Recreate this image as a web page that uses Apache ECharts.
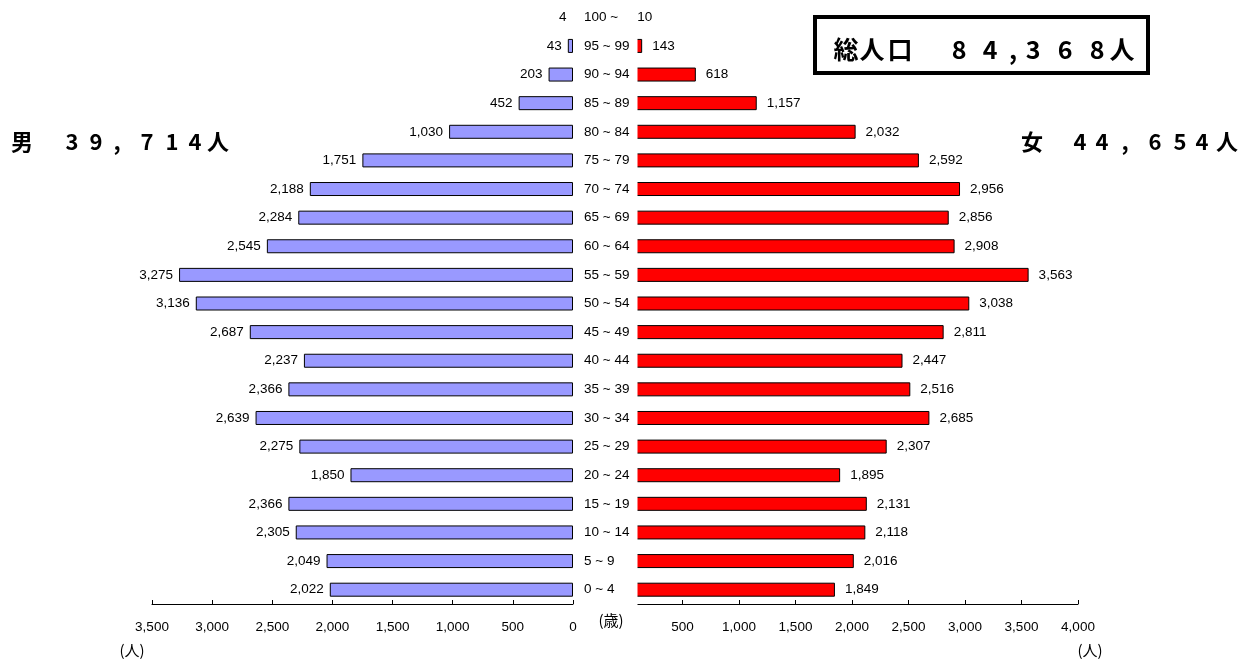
<!DOCTYPE html>
<html><head><meta charset="utf-8">
<script src="https://cdn.jsdelivr.net/npm/echarts@6/dist/echarts.min.js"></script>
<style>html,body{margin:0;padding:0;background:#fff}#c{width:1249px;height:661px}</style>
</head><body><div id="c"></div>
<script>
const categories = ['0 ~ 4','5 ~ 9','10 ~ 14','15 ~ 19','20 ~ 24','25 ~ 29','30 ~ 34','35 ~ 39','40 ~ 44','45 ~ 49','50 ~ 54','55 ~ 59','60 ~ 64','65 ~ 69','70 ~ 74','75 ~ 79','80 ~ 84','85 ~ 89','90 ~ 94','95 ~ 99','100 ~'];
const male = [2022,2049,2305,2366,1850,2275,2639,2366,2237,2687,3136,3275,2545,2284,2188,1751,1030,452,203,43,4];
const female = [1849,2016,2118,2131,1895,2307,2685,2516,2447,2811,3038,3563,2908,2856,2956,2592,2032,1157,618,143,10];
// header texts, one glyph each so the wide letter-spacing of the original is kept
const totalGlyphs = ['総','人','口','8','4',',','3','6','8','人'];
const maleGlyphs = ['男','3','9',',','7','1','4','人'];
const femaleGlyphs = ['女','4','4',',','6','5','4','人'];

const FONT = '"Liberation Sans", Arial, sans-serif';
const JFONT = '"Noto Sans CJK JP", sans-serif';
const fmt = v => Number(v).toLocaleString('en-US');

const totalX = [846, 872, 900, 959, 990, 1013, 1033, 1065, 1097, 1122];
const maleX = [22, 72, 96, 117, 147, 172, 195, 218];
const femaleX = [1032, 1080, 1102, 1125, 1155, 1180, 1202, 1227];
function glyphs(list, xs, y, size) {
  return list.map((g, i) => ({type: 'text', x: xs[i], y: y, z: 60,
    style: {text: g, fontSize: size, fontWeight: 'bold', fontFamily: JFONT, fill: '#000', align: 'center', verticalAlign: 'middle'}}));
}

const chart = echarts.init(document.getElementById('c'));
chart.setOption({
  animation: false,
  backgroundColor: '#fff',
  grid: [
    {left: 152, right: 676, top: 3, bottom: 57},
    {left: 626, right: 171, top: 3, bottom: 57}
  ],
  xAxis: [
    {gridIndex: 0, type: 'value', inverse: true, min: 0, max: 3500, interval: 500,
     axisLine: {show: true, lineStyle: {color: '#000', width: 1}},
     axisTick: {show: true, inside: true, length: 4, lineStyle: {color: '#000'}},
     splitLine: {show: false},
     axisLabel: {color: '#000', fontSize: 13.5, fontFamily: FONT, margin: 16, formatter: fmt}},
    {gridIndex: 1, type: 'value', min: 0, max: 4000, interval: 500,
     axisLine: {show: true, lineStyle: {color: '#000', width: 1}},
     axisTick: {show: true, inside: true, length: 4, lineStyle: {color: '#000'}},
     splitLine: {show: false},
     axisLabel: {color: '#000', fontSize: 13.5, fontFamily: FONT, margin: 16, formatter: fmt, showMinLabel: false}}
  ],
  yAxis: [
    {gridIndex: 0, type: 'category', data: categories, position: 'right', z: 100,
     axisLine: {show: false}, axisTick: {show: false},
     axisLabel: {color: '#000', fontSize: 13.5, fontFamily: FONT, align: 'left', margin: 11}},
    {gridIndex: 1, type: 'category', data: categories,
     axisLine: {show: false}, axisTick: {show: false}, axisLabel: {show: false}}
  ],
  series: [
    {type: 'bar', xAxisIndex: 0, yAxisIndex: 0, barWidth: 14,
     data: male.map(v => v < 10 ? {value: v, itemStyle: {borderWidth: 0, color: 'rgba(0,0,0,0)'}} : v),
     itemStyle: {color: '#9999ff', borderColor: '#000', borderWidth: 1},
     label: {show: true, position: 'left', distance: 6, color: '#000', fontSize: 13.5, fontFamily: FONT, formatter: p => fmt(p.value)}},
    {type: 'bar', xAxisIndex: 1, yAxisIndex: 1, data: female, barWidth: 14,
     itemStyle: {color: '#ff0000', borderColor: '#000', borderWidth: 1},
     label: {show: true, position: 'right', distance: 10, color: '#000', fontSize: 13.5, fontFamily: FONT, formatter: p => fmt(p.value)}}
  ],
  graphic: [
    // white strip behind the age labels (the female bars start just right of it)
    {type: 'rect', z: 50, shape: {x: 612, y: 0, width: 25.5, height: 606}, style: {fill: '#fff'}},
    {type: 'rect', z: 55, shape: {x: 815, y: 17, width: 333, height: 56}, style: {fill: '#fff', stroke: '#000', lineWidth: 4}}
  ].concat(
    glyphs(totalGlyphs, totalX, 49, 25),
    glyphs(maleGlyphs, maleX, 142, 22),
    glyphs(femaleGlyphs, femaleX, 142, 22),
    [
      {type: 'text', x: 611, y: 620, z: 60, style: {text: '(歳)', fontSize: 15, fontFamily: JFONT, fill: '#000', align: 'center', verticalAlign: 'middle'}},
      {type: 'text', x: 132, y: 650, z: 60, style: {text: '(人)', fontSize: 15, fontFamily: JFONT, fill: '#000', align: 'center', verticalAlign: 'middle'}},
      {type: 'text', x: 1090, y: 650, z: 60, style: {text: '(人)', fontSize: 15, fontFamily: JFONT, fill: '#000', align: 'center', verticalAlign: 'middle'}}
    ]
  )
});
</script></body></html>
